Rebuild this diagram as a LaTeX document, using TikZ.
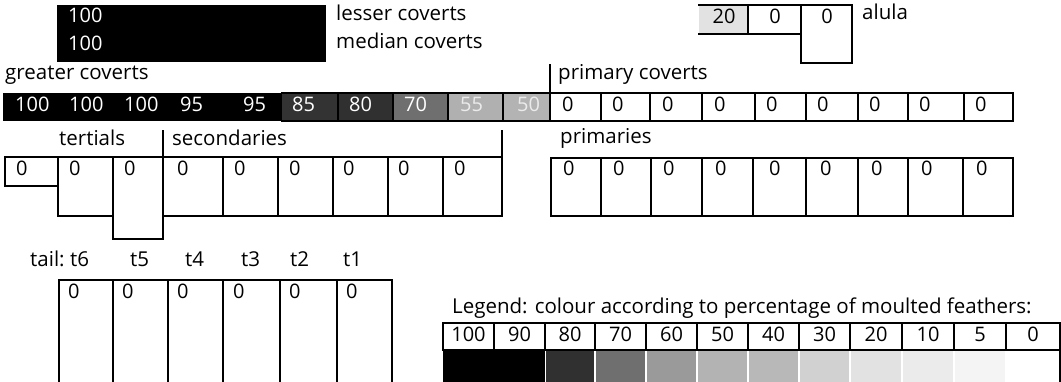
\documentclass[tikz,border=0pt]{standalone}
\usepackage{fontspec}
\setmainfont{Open Sans}
\definecolor{g85}{HTML}{333333}
\definecolor{g80}{HTML}{303030}
\definecolor{g70}{HTML}{6F6F6F}
\definecolor{g60}{HTML}{9A9A9A}
\definecolor{g55}{HTML}{B0B0B0}
\definecolor{g50}{HTML}{B3B3B3}
\definecolor{g40}{HTML}{B8B8B8}
\definecolor{g30}{HTML}{D1D1D1}
\definecolor{g20}{HTML}{E2E2E2}
\definecolor{g10}{HTML}{EBEBEB}
\definecolor{g5}{HTML}{F4F4F4}
\newcommand{\lblfont}{\fontsize{20.5}{24}\selectfont}
\newcommand{\numfont}{\fontsize{20}{23}\selectfont}
\begin{document}
\begin{tikzpicture}[x=1pt,y=-1pt,
  lbl/.style={anchor=mid west,inner sep=0pt,font=\lblfont},
  num/.style={anchor=mid west,inner sep=0pt,font=\numfont,yshift=-1.8pt},
  wnum/.style={num,text=white},
  cnum/.style={anchor=mid,inner sep=0pt,font=\numfont,yshift=-1.8pt},
  ln/.style={line width=1.7pt,line cap=rect}]
\useasboundingbox (0,0) rectangle (1061,381);
\fill[white] (0,0) rectangle (1061,381);
% lesser / median coverts
\fill[black] (57,5) rectangle (326,62);
\node[wnum] (l1) at (68,18) {100};
\node[wnum] (m1) at (68,46) {100};
\node[lbl] (lc) at (336,18) {lesser coverts};
\node[lbl] (mc) at (336,46) {median coverts};
% alula
\fill[g20] (699,5) rectangle (748,34);
\draw[ln] (699,5) -- (852,5);
\draw[ln] (699,34) -- (801,34);
\draw[ln] (748,5) -- (748,34);
\draw[ln] (801,5) -- (801,63) -- (852,63) -- (852,5);
\node[cnum] (a1) at (724,19) {20};
\node[cnum] (a2) at (775,19) {0};
\node[cnum] (a3) at (827,19) {0};
\node[lbl] (al) at (862,17) {alula};
% greater / primary coverts
\node[lbl] (gc) at (5,77) {greater coverts};
\node[lbl] (pc) at (558,77) {primary coverts};
\draw[ln] (550,65) -- (550,93);
\fill[black] (3,93) rectangle (282,121);
\fill[g85] (282,93) rectangle (338,121);
\fill[g80] (338,93) rectangle (393,121);
\fill[g70] (393,93) rectangle (448,121);
\fill[g55] (448,93) rectangle (503,121);
\fill[g50] (503,93) rectangle (550,121);
\draw[ln] (282,93) -- (1013,93) -- (1013,121) -- (282,121);
\foreach \x in {338,393,448,503,550,601,650,702,755,806,858,908,964}
  \draw[ln] (\x,93) -- (\x,121);
\foreach \x/\t [count=\i] in {15/100,69/100,124/100,180/95,243/95,292/85,349/80,404/70}
  \node[wnum] (g\i) at (\x,107) {\t};
\node[num,text=white!92!black] (g9) at (460,107) {55};
\node[num,text=white!92!black] (g10) at (517,107) {50};
\foreach \x [count=\i] in {562,612,662,714,766,817,869,919,975}
  \node[num] (p\i) at (\x,107) {0};
% tertials / secondaries
\node[lbl] (te) at (59,143) {tertials};
\node[lbl] (se) at (172,143) {secondaries};
\draw[ln] (163,131) -- (163,239) -- (113,239) -- (113,157);
\draw[ln] (502,131) -- (502,216) -- (163,216);
\draw[ln] (5,157) -- (502,157);
\draw[ln] (5,157) -- (5,186) -- (58,186);
\draw[ln] (58,157) -- (58,216) -- (113,216);
\foreach \x in {223,278,333,388,443}
  \draw[ln] (\x,157) -- (\x,216);
\foreach \x [count=\i] in {16,69,124,177,234,289,343,398,454}
  \node[num] (s\i) at (\x,171) {0};
% primaries
\node[lbl] (pr) at (560,141) {primaries};
\draw[ln] (551,158) rectangle (1013,216);
\foreach \x in {601,651,702,753,806,858,908,963}
  \draw[ln] (\x,158) -- (\x,216);
\foreach \x [count=\i] in {563,613,663,715,769,820,871,921,976}
  \node[num] (q\i) at (\x,171) {0};
% tail
\node[lbl] (ta) at (30,264) {tail:};
\foreach \x/\t in {70/t6,130/t5,185/t4,241/t3,290/t2,343/t1}
  \node[lbl] (\t) at (\x,264) {\t};
\draw[ln] (59,280) -- (392,280);
\foreach \x in {59,113,168,223,280,337,392}
  \draw[ln] (\x,280) -- (\x,383);
\foreach \x [count=\i] in {68,122,177,233,289,346}
  \node[num] (r\i) at (\x,294) {0};
% legend
\node[lbl] (lg) at (452,311) {Legend: colour according to percentage of moulted feathers:};
\fill[black] (443,350) rectangle (545,383);
\foreach \a/\b/\c in {545/595/g80,595/646/g70,646/697/g60,697/748/g50,748/799/g40,799/850/g30,850/902/g20,902/954/g10,954/1006/g5}
  \fill[\c] (\a+0.7,350) rectangle (\b-0.7,383);
\draw[ln] (443,323) rectangle (1060,350);
\draw[ln] (1060,350) -- (1060,383);
\foreach \x in {494,545,595,646,697,748,799,850,902,954,1006}
  \draw[ln] (\x,323) -- (\x,350);
\foreach \a/\b/\t [count=\i] in {443/494/100,494/545/90,545/595/80,595/646/70,646/697/60,697/748/50,748/799/40,799/850/30,850/902/20,902/954/10,954/1006/5,1006/1060/0}
  \node[cnum] (k\i) at ({(\a+\b)/2},337) {\t};
\end{tikzpicture}
\end{document}
